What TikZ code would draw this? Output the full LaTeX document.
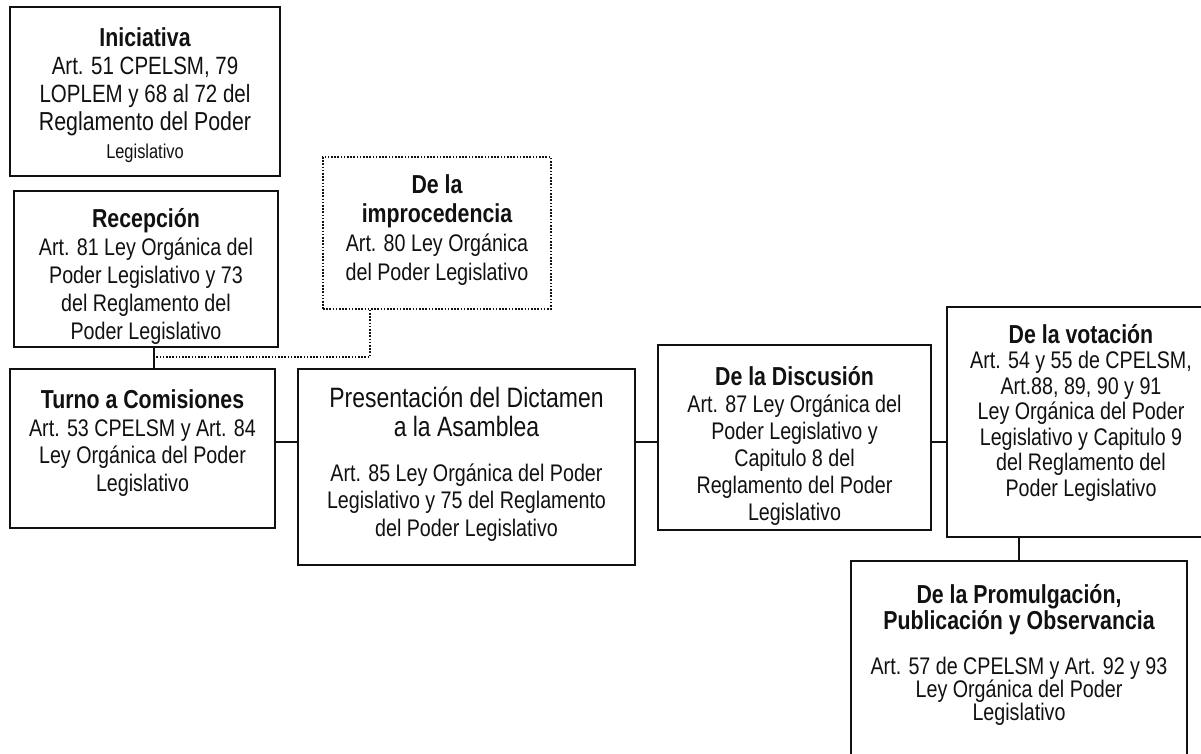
\documentclass[tikz,border=0pt]{standalone}
\usepackage{fontspec}
\setmainfont[FakeStretch=0.82]{Liberation Sans}
\usepackage{xcolor}
\usetikzlibrary{positioning}
\definecolor{myborde}{HTML}{111111}
\definecolor{mytexto}{HTML}{111111}
\tikzset{
caja/.style={
draw=myborde,
line width=1pt,
inner sep=0pt
},
cajapunteada/.style={
draw=myborde,
line width=0.8pt,
dash pattern=on 0.8pt off 0.8pt,
inner sep=0pt
},
texto/.style={
align=center,
inner sep=0pt,
text=mytexto,
font=\fontsize{12}{14}\selectfont
},
conector/.style={
draw=myborde,
line width=1pt
},
conectorpunteado/.style={
draw=myborde,
line width=0.8pt,
dash pattern=on 0.8pt off 0.8pt
}
}
\newcommand{\tit}[1]{{\fontsize{13}{14}\selectfont\bfseries #1}}

\begin{document}
\begin{tikzpicture}[x=0.5pt,y=-0.5pt]
\clip (0,0) rectangle (1201,754);
\fill[white] (0,0) rectangle (1201,754);

\node[caja, minimum width=135pt, minimum height=84.5pt] (ini) at (145,91.5) {};
\node[texto, font=\fontsize{12.5}{14}\selectfont] (ini-t) at (145,95)
  {\tit{Iniciativa}\\Art. 51 CPELSM, 79\\LOPLEM y 68 al 72 del\\{\fontsize{13}{14}\selectfont Reglamento del Poder}\\{\fontsize{10}{14}\selectfont Legislativo}};

\node[caja, minimum width=132pt, minimum height=78pt] (rec) at (146,269) {};
\node[texto] (rec-t) at (146,276)
  {\tit{Recepción}\\Art. 81 Ley Orgánica del\\Poder Legislativo y 73\\del Reglamento del\\Poder Legislativo};

\node[cajapunteada, minimum width=114pt, minimum height=76pt] (imp) at (437,233) {};
\node[texto, font=\fontsize{12}{14.5}\selectfont] (imp-t) at (437,230)
  {\tit{De la}\\\tit{improcedencia}\\Art. 80 Ley Orgánica\\del Poder Legislativo};

\node[caja, minimum width=132.5pt, minimum height=79.5pt] (tur) at (142.5,448.5) {};
\node[texto, font=\fontsize{12}{13.75}\selectfont] (tur-t) at (142.5,443)
  {\tit{Turno a Comisiones}\\Art. 53 CPELSM y Art. 84\\Ley Orgánica del Poder\\Legislativo};

\node[caja, minimum width=168.5pt, minimum height=98pt] (pre) at (466.5,467) {};
\node[texto, font=\fontsize{12}{13.75}\selectfont] (pre-t) at (466.5,464)
  {{\fontsize{14}{14.5}\selectfont Presentación del Dictamen}\\[0.75pt]{\fontsize{14}{14.5}\selectfont a la Asamblea}\\[8.75pt]Art. 85 Ley Orgánica del Poder\\Legislativo y 75 del Reglamento\\del Poder Legislativo};

\node[caja, minimum width=136.5pt, minimum height=92.5pt] (dis) at (794.5,437.5) {};
\node[texto, font=\fontsize{12}{13.5}\selectfont] (dis-t) at (794.5,445.5)
  {\tit{De la Discusión}\\Art. 87 Ley Orgánica del\\Poder Legislativo y\\Capitulo 8 del\\Reglamento del Poder\\Legislativo};

\node[caja, minimum width=134pt, minimum height=115pt] (vot) at (1081,422) {};
\node[texto, font=\fontsize{12}{12.75}\selectfont] (vot-t) at (1081,412.5)
  {\tit{De la votación}\\Art. 54 y 55 de CPELSM,\\Art.88, 89, 90 y 91\\Ley Orgánica del Poder\\Legislativo y Capitulo 9\\del Reglamento del\\Poder Legislativo};

\node[caja, minimum width=168pt, minimum height=119.5pt] (pro) at (1019,680.5) {};
\node[texto, font=\fontsize{12}{11.5}\selectfont] (pro-t) at (1019,655)
  {\tit{De la Promulgación,}\\\tit{Publicación y Observancia}\\[11pt]Art. 57 de CPELSM y Art. 92 y 93\\Ley Orgánica del Poder\\Legislativo};

\coordinate (enlace) at (154,0);
\coordinate (salida) at (370,0);
\coordinate (codo) at (154,357);
\coordinate (eje) at (0,442);

\draw[conector] (rec.south -| enlace) -- (tur.north -| enlace);
\draw[conectorpunteado] (imp.south -| salida) |- (codo);
\draw[conector] (tur.east |- eje) -- (pre.west |- eje);
\draw[conector] (pre.east |- eje) -- (dis.west |- eje);
\draw[conector] (dis.east |- eje) -- (vot.west |- eje);
\draw[conector] (vot.south -| pro.north) -- (pro.north);

\end{tikzpicture}
\end{document}
